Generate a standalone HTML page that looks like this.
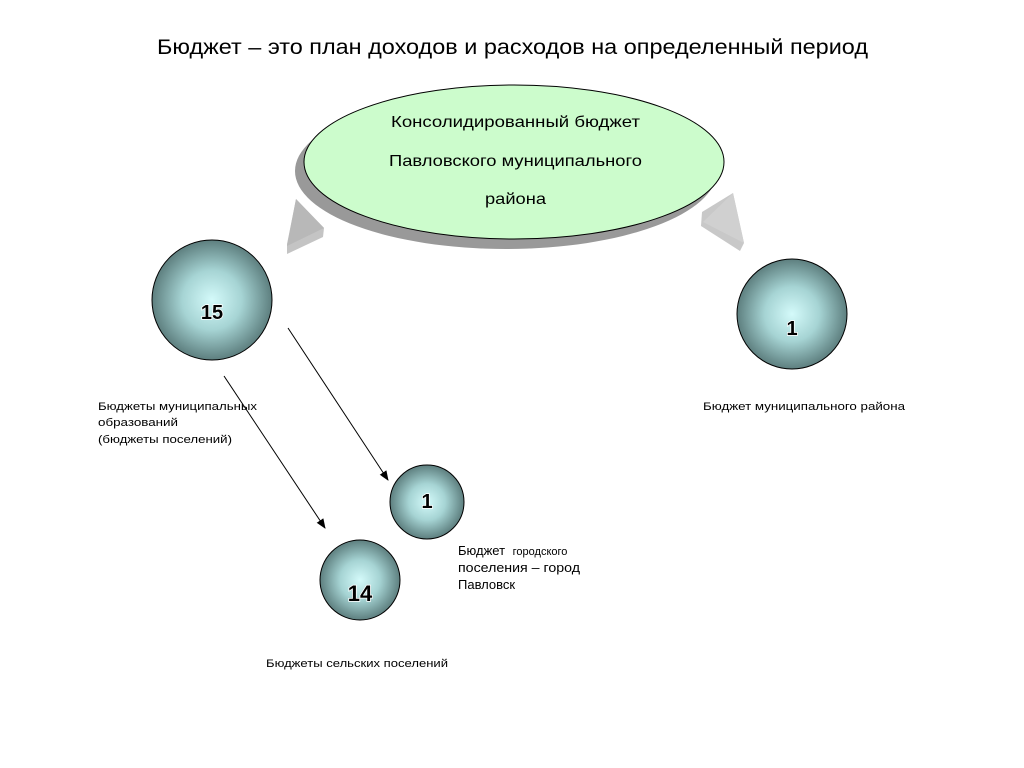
<!DOCTYPE html>
<html><head><meta charset="utf-8"><style>
body{margin:0;background:#fff;}
svg{display:block;font-family:"Liberation Sans",sans-serif;}
</style></head><body>
<svg width="1024" height="768" viewBox="0 0 1024 768" xmlns="http://www.w3.org/2000/svg">
<defs>
<radialGradient id="g" cx="50%" cy="50%" r="55%">
<stop offset="0" stop-color="#d4fafa"/>
<stop offset="0.45" stop-color="#a6d4d4"/>
<stop offset="1" stop-color="#4f6e6e"/>
</radialGradient>
<marker id="a" markerWidth="10" markerHeight="10" refX="9" refY="5" orient="auto" markerUnits="userSpaceOnUse">
<path d="M0,1 L10,5 L0,9 Z" fill="#000"/>
</marker>
</defs>
<text x="157" y="54" font-size="21" fill="#000" textLength="711" lengthAdjust="spacingAndGlyphs">Бюджет – это план доходов и расходов на определенный период</text>
<ellipse cx="506" cy="171" rx="211" ry="78" fill="#999"/>
<ellipse cx="514" cy="162" rx="210" ry="77" fill="#ccfccc" stroke="#000" stroke-width="1"/>
<g font-size="16" fill="#000">
<text x="391" y="127" textLength="249" lengthAdjust="spacingAndGlyphs">Консолидированный бюджет</text>
<text x="389" y="166" textLength="253" lengthAdjust="spacingAndGlyphs">Павловского муниципального</text>
<text x="485" y="204" textLength="61" lengthAdjust="spacingAndGlyphs">района</text>
</g>
<polygon points="296,199 324,228 323,237 287,254 287,244" fill="#c4c4c4"/>
<polygon points="296,199 324,228 287,246" fill="#b8b8b8"/>
<polygon points="733,193 744,243 740,251 701,226 702,212" fill="#c8c8c8"/>
<polygon points="733,193 744,243 703,222" fill="#d0d0d0"/>
<circle cx="212" cy="300" r="60" fill="url(#g)" stroke="#000"/>
<circle cx="792" cy="314" r="55" fill="url(#g)" stroke="#000"/>
<circle cx="427" cy="502" r="37" fill="url(#g)" stroke="#000"/>
<circle cx="360" cy="580" r="40" fill="url(#g)" stroke="#000"/>
<g font-weight="bold" text-anchor="middle" fill="#000" style="paint-order:stroke" stroke="#fff" stroke-width="1.5">
<text x="212" y="319" font-size="20">15</text>
<text x="792" y="335" font-size="20">1</text>
<text x="427" y="508" font-size="20">1</text>
<text x="360" y="601" font-size="22">14</text>
</g>
<line x1="288" y1="328" x2="388" y2="480" stroke="#000" marker-end="url(#a)"/>
<line x1="224" y1="376" x2="325" y2="528" stroke="#000" marker-end="url(#a)"/>
<g font-size="11" fill="#000">
<text x="98" y="410" textLength="159" lengthAdjust="spacingAndGlyphs">Бюджеты муниципальных</text>
<text x="98" y="426" textLength="80" lengthAdjust="spacingAndGlyphs">образований</text>
<text x="98" y="443" textLength="134" lengthAdjust="spacingAndGlyphs">(бюджеты поселений)</text>
<text x="703" y="410" textLength="202" lengthAdjust="spacingAndGlyphs">Бюджет муниципального района</text>
<text x="266" y="667" textLength="182" lengthAdjust="spacingAndGlyphs">Бюджеты сельских поселений</text>
</g>
<g font-size="13" fill="#000">
<text x="458" y="555">Бюджет <tspan font-size="11" dx="4">городского</tspan></text>
<text x="458" y="572" textLength="122" lengthAdjust="spacingAndGlyphs">поселения – город</text>
<text x="458" y="589">Павловск</text>
</g>
</svg>
</body></html>
